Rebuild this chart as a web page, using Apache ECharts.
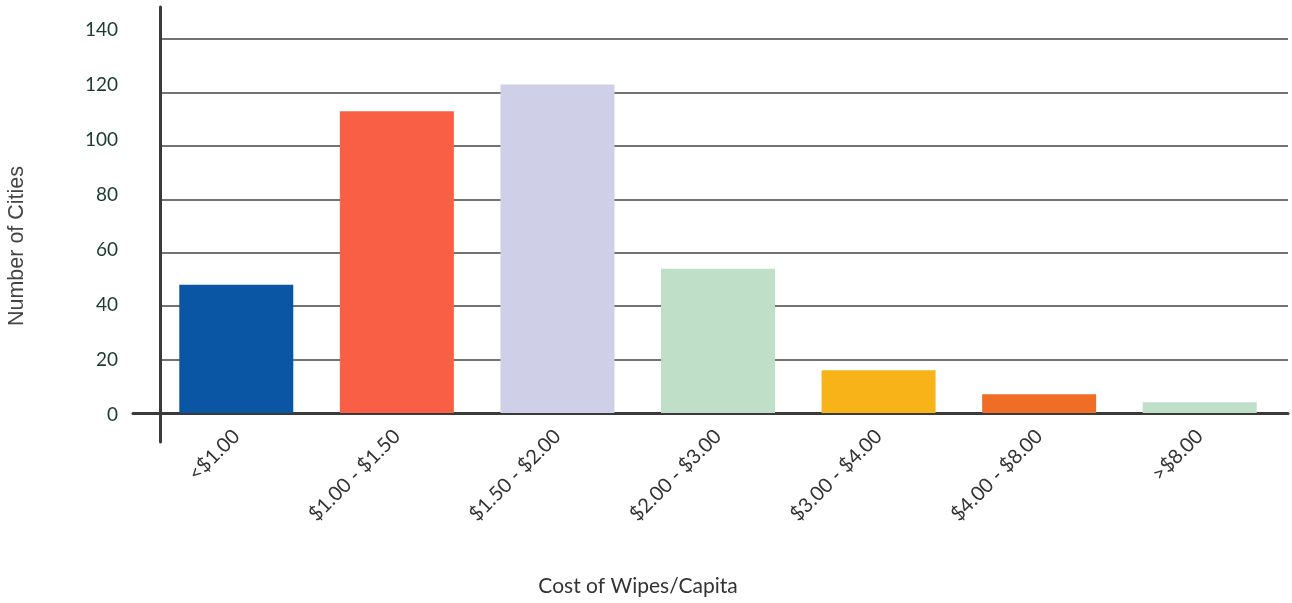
<!DOCTYPE html>
<html>
<head>
<meta charset="utf-8">
<script src="https://cdn.jsdelivr.net/npm/echarts@6/dist/echarts.min.js"></script>
<style>
  html, body { margin: 0; padding: 0; background: #fff; }
  #chart { width: 1292px; height: 603px; }
</style>
</head>
<body>
<div id="chart"></div>
<script>
// cost bands and number of cities in each
var categories = ['<$1.00', '$1.00 - $1.50', '$1.50 - $2.00', '$2.00 - $3.00', '$3.00 - $4.00', '$4.00 - $8.00', '>$8.00'];
var cities = [48, 113, 123, 54, 16, 7, 4];
var barColors = ['#0a55a4', '#f95f44', '#cfd0e7', '#bfdfc9', '#f8b319', '#ef6d25', '#bfdfc9'];
var yMax = 140;
var yStep = 20;

var myChart = echarts.init(document.getElementById('chart'));

var hiddenX = function (idx) {
    return { type: 'value', gridIndex: idx, show: false };
};

myChart.setOption({
    animation: false,
    title: {
        text: 'Cost of Wipes/Capita',
        left: 638,
        top: 576,
        textAlign: 'center',
        padding: 0,
        textStyle: { color: '#333', fontFamily: 'Lato', fontSize: 21, fontWeight: 'normal' }
    },
    graphic: [
        {
            type: 'text',
            x: 17,
            y: 246,
            rotation: Math.PI / 2,
            style: {
                text: 'Number of Cities',
                fill: '#444',
                font: '21.5px "Liberation Sans"',
                textAlign: 'center',
                textVerticalAlign: 'middle'
            }
        }
    ],
    grid: [
        // bars
        { left: 156, right: 12, top: 39, bottom: 190 },
        // grid lines
        { left: 160, right: 4, top: 39, bottom: 190 },
        // y tick labels
        { left: 160, right: 4, top: 30, bottom: 188 },
        // vertical axis line
        { left: 160, right: 4, top: 7, bottom: 161 },
        // baseline
        { left: 133, right: 4, top: 412, bottom: 190 }
    ],
    xAxis: [
        {
            type: 'category',
            gridIndex: 0,
            data: categories,
            axisLine: { show: false },
            axisTick: { show: false },
            axisLabel: {
                rotate: 45,
                margin: 20,
                color: '#333',
                fontFamily: 'Lato',
                fontSize: 20
            }
        },
        hiddenX(1),
        hiddenX(2),
        hiddenX(3),
        {
            type: 'value',
            gridIndex: 4,
            axisLine: { show: true, lineStyle: { color: '#3a3a3a', width: 3 } },
            axisTick: { show: false },
            axisLabel: { show: false },
            splitLine: { show: false }
        }
    ],
    yAxis: [
        { type: 'value', gridIndex: 0, min: 0, max: yMax, show: false },
        {
            type: 'value',
            gridIndex: 1,
            min: 0,
            max: yMax,
            interval: yStep,
            axisLine: { show: false },
            axisTick: { show: false },
            axisLabel: { show: false },
            splitLine: { show: true, lineStyle: { color: '#444', width: 1.5 } }
        },
        {
            type: 'value',
            gridIndex: 2,
            min: 0,
            max: yMax,
            interval: yStep,
            axisLine: { show: false },
            axisTick: { show: false },
            splitLine: { show: false },
            axisLabel: {
                margin: 42,
                color: '#1c3b2e',
                fontFamily: 'Lato',
                fontSize: 19
            }
        },
        {
            type: 'value',
            gridIndex: 3,
            axisLine: { show: true, lineStyle: { color: '#3a3a3a', width: 3 } },
            axisTick: { show: false },
            axisLabel: { show: false },
            splitLine: { show: false }
        },
        { type: 'value', gridIndex: 4, show: false }
    ],
    series: [
        {
            type: 'bar',
            xAxisIndex: 0,
            yAxisIndex: 0,
            data: cities.map(function (v, i) {
                return { value: v, itemStyle: { color: barColors[i] } };
            }),
            barCategoryGap: '29%',
            z: 3
        }
    ]
});
</script>
</body>
</html>
